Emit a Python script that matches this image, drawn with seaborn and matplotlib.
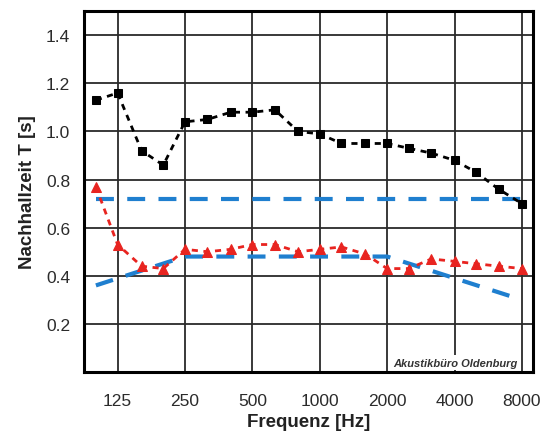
import matplotlib
matplotlib.use("Agg")
import matplotlib.pyplot as plt
import numpy as np
import pandas as pd
import seaborn as sns

# Third-octave band centre frequencies (Hz)
freqs = [100, 125, 160, 200, 250, 315, 400, 500, 630, 800,
         1000, 1250, 1600, 2000, 2500, 3150, 4000, 5000, 6300, 8000]

# Measured reverberation times (s)
t_before = [1.13, 1.16, 0.92, 0.86, 1.04, 1.05, 1.08, 1.08, 1.09, 1.00,
            0.99, 0.95, 0.95, 0.95, 0.93, 0.91, 0.88, 0.83, 0.76, 0.70]
t_after = [0.77, 0.53, 0.44, 0.43, 0.51, 0.50, 0.51, 0.53, 0.53, 0.50,
           0.51, 0.52, 0.49, 0.43, 0.43, 0.47, 0.46, 0.45, 0.44, 0.43]

# Tolerance band limits
upper_freqs = [100, 8000]
upper_limit = [0.72, 0.72]
lower_freqs = [100, 250, 2000, 8000]
lower_limit = [0.36, 0.48, 0.48, 0.30]

tick_freqs = [125, 250, 500, 1000, 2000, 4000, 8000]
tick_labels = ["125", "250", "500", "1000", "2000", "4000", "8000"]
y_ticks = [0.2, 0.4, 0.6, 0.8, 1.0, 1.2, 1.4]

sns.set_style("white")
plt.rcParams["font.family"] = ["Liberation Sans", "DejaVu Sans"]

fig = plt.figure(figsize=(5.51, 4.35), dpi=100)
ax = fig.add_axes([0.1525, 0.1425, 0.8145, 0.8295])

blue = "#1f7fcf"
red = "#e82420"

df_meas = pd.DataFrame({"f": freqs, "before": t_before, "after": t_after})
df_up = pd.DataFrame({"f": upper_freqs, "t": upper_limit})
df_lo = pd.DataFrame({"f": lower_freqs, "t": lower_limit})

sns.lineplot(data=df_up, x="f", y="t", ax=ax, color=blue, lw=3,
             linestyle=(0, (4.3, 3.2)), zorder=3)
sns.lineplot(data=df_lo, x="f", y="t", ax=ax, color=blue, lw=3,
             linestyle=(0, (4.3, 3.2)), zorder=3)
sns.lineplot(data=df_meas, x="f", y="before", ax=ax, color="black", lw=2,
             linestyle=(0, (2.2, 2.0)), marker="s", markersize=6.2,
             markeredgecolor="black", markerfacecolor="black", zorder=4)
sns.lineplot(data=df_meas, x="f", y="after", ax=ax, color=red, lw=2,
             linestyle=(0, (2.2, 2.0)), marker="^", markersize=7.5,
             markeredgecolor=red, markerfacecolor=red, zorder=4)

ax.set_xscale("log", base=2)
ax.set_xlim(88.5, 8950)
ax.set_ylim(0, 1.5)
ax.set_xticks(tick_freqs)
ax.set_xticklabels(tick_labels)
ax.minorticks_off()
ax.set_yticks(y_ticks)
ax.set_yticklabels([f"{v:.1f}" for v in y_ticks])

ax.grid(True, which="major", color="#2a2a2a", lw=1.3)
ax.set_axisbelow(True)
ax.tick_params(axis="both", length=0, labelsize=12.5, labelcolor="#2b2b2b")
ax.tick_params(axis="y", pad=10)
ax.tick_params(axis="x", pad=15)

for sp in ax.spines.values():
    sp.set_color("black")
    sp.set_linewidth(2.2)

ax.set_xlabel("Frequenz [Hz]", fontsize=13.5, fontweight="bold", color="#222222", labelpad=4)
ax.set_ylabel("Nachhallzeit T [s]", fontsize=13.5, fontweight="bold", color="#222222", labelpad=7)

ax.text(0.965, 0.012, "Akustikbüro Oldenburg", transform=ax.transAxes,
        ha="right", va="bottom", fontsize=8, fontstyle="italic",
        fontweight="bold", color="#333333", zorder=5,
        bbox=dict(boxstyle="square,pad=0.25", fc="white", ec="none"))

fig.savefig("out.png", dpi=100)
